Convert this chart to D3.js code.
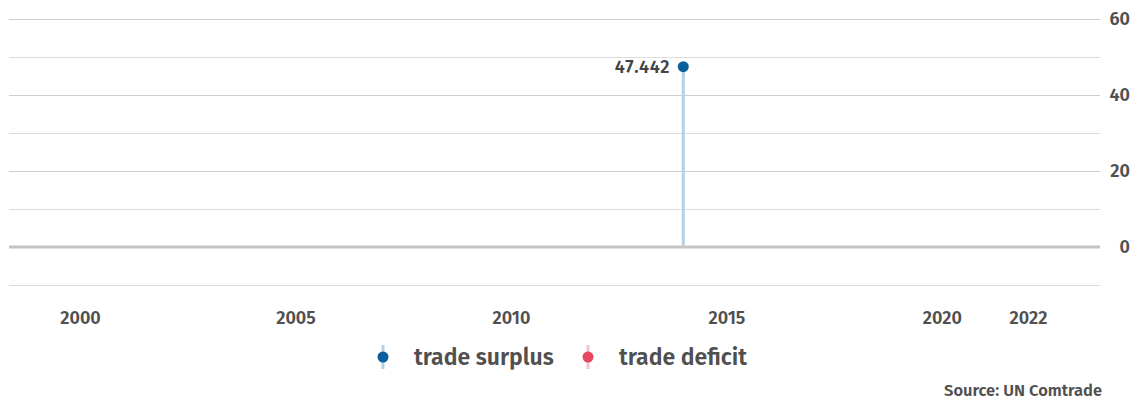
<!DOCTYPE html>
<html>
<head>
<meta charset="utf-8">
<script src="https://cdn.jsdelivr.net/npm/d3@7"></script>
<style>
    body { margin: 0; background: #fff; }
    svg text { font-family: "Fira Sans", "Noto Sans", sans-serif; font-weight: 600; fill: #505050; }
</style>
</head>
<body>
<svg id="chart" width="1147" height="401"></svg>
<script>
// trade balance by year (only 2014 reported)
var years = [2014];
var balance = [47.442];
var xTicks = [2000, 2005, 2010, 2015, 2020, 2022];
var yTicks = [60, 40, 20, 0];
var yGrid = [60, 50, 40, 30, 20, 10, -10];
var legendItems = ["trade surplus", "trade deficit"];

var colors = {
    surplus: { dot: "#0b5f9c", stem: "#b3d0e4" },
    deficit: { dot: "#e8485f", stem: "#f5c3cb" }
};

var svg = d3.select("#chart");
var left = 9, right = 1100;

var x = d3.scaleLinear().domain([2000, 2022]).range([80, 1028]);
var y = d3.scaleLinear().domain([-10, 60]).range([285, 19]);

// grid
svg.append("g").selectAll("line")
    .data(yGrid)
    .enter().append("line")
    .attr("x1", left).attr("x2", right)
    .attr("y1", function(d) { return y(d) + 0.5; })
    .attr("y2", function(d) { return y(d) + 0.5; })
    .attr("stroke", function(d) { return d % 20 == 0 ? "#cfcfcf" : "#dcdcdc"; })
    .attr("stroke-width", 1);

svg.append("line")
    .attr("x1", left).attr("x2", right)
    .attr("y1", y(0)).attr("y2", y(0))
    .attr("stroke", "#c4c4c4")
    .attr("stroke-width", 3);

// y axis on the right
var yAxis = svg.append("g")
    .attr("transform", "translate(1130,0)")
    .call(d3.axisRight(y).tickValues(yTicks).tickSize(0).tickPadding(0));
yAxis.select(".domain").remove();
yAxis.selectAll("text")
    .attr("text-anchor", "end")
    .style("font-size", "18px");

// x axis
var xAxis = svg.append("g")
    .attr("transform", "translate(0,311)")
    .call(d3.axisBottom(x).tickValues(xTicks).tickFormat(d3.format("d")).tickSize(0).tickPadding(0));
xAxis.select(".domain").remove();
xAxis.selectAll("text").style("font-size", "18px");

// lollipops
var data = years.map(function(yr, i) { return { year: yr, value: balance[i] }; });

var g = svg.append("g");
g.selectAll(".stem")
    .data(data)
    .enter().append("line")
    .attr("class", "stem")
    .attr("x1", function(d) { return x(d.year); })
    .attr("x2", function(d) { return x(d.year); })
    .attr("y1", y(0) - 1.5)
    .attr("y2", function(d) { return y(d.value); })
    .attr("stroke", function(d) { return d.value >= 0 ? colors.surplus.stem : colors.deficit.stem; })
    .attr("stroke-width", 3);

g.selectAll(".dot")
    .data(data)
    .enter().append("circle")
    .attr("class", "dot")
    .attr("cx", function(d) { return x(d.year); })
    .attr("cy", function(d) { return y(d.value); })
    .attr("r", 5.5)
    .attr("fill", function(d) { return d.value >= 0 ? colors.surplus.dot : colors.deficit.dot; });

g.selectAll(".val")
    .data(data)
    .enter().append("text")
    .attr("class", "val")
    .attr("x", function(d) { return x(d.year) - 13; })
    .attr("y", function(d) { return y(d.value); })
    .attr("dy", "0.35em")
    .attr("text-anchor", "end")
    .style("font-size", "18px")
    .style("letter-spacing", "0.8px")
    .style("fill", "#444")
    .text(function(d) { return d3.format(".3f")(d.value); });

// legend
var legend = svg.append("g").attr("transform", "translate(0,357)");
var lx = [383, 588];
var lc = [colors.surplus, colors.deficit];
legendItems.forEach(function(name, i) {
    legend.append("line")
        .attr("x1", lx[i]).attr("x2", lx[i])
        .attr("y1", -12).attr("y2", 12)
        .attr("stroke", lc[i].stem)
        .attr("stroke-width", 3);
    legend.append("circle")
        .attr("cx", lx[i]).attr("cy", 0).attr("r", 5.5)
        .attr("fill", lc[i].dot);
    legend.append("text")
        .attr("x", lx[i] + 31)
        .attr("dy", "0.35em")
        .style("font-size", "23px")
        .text(name);
});

svg.append("text")
    .attr("x", 1102).attr("y", 396)
    .attr("text-anchor", "end")
    .style("font-size", "16.5px")
    .text("Source: UN Comtrade");
</script>
</body>
</html>
